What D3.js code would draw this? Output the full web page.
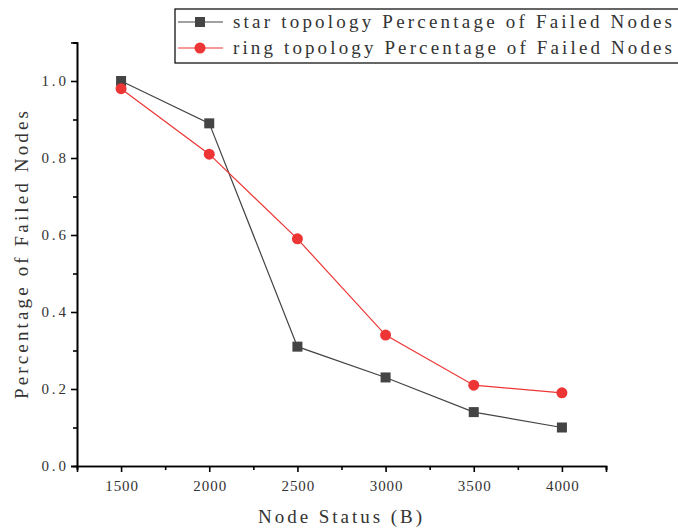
<!DOCTYPE html>
<html><head><meta charset="utf-8">
<script src="https://cdn.jsdelivr.net/npm/d3@7"></script>
<style>body{margin:0;background:#fff}svg{display:block}text{font-family:"Liberation Serif","DejaVu Serif",serif;fill:#333}</style>
</head><body>
<svg id="c" width="678" height="528"></svg>
<script>
const categories = [1500, 2000, 2500, 3000, 3500, 4000];
const starValues = [1.00, 0.89, 0.31, 0.23, 0.14, 0.10];
const ringValues = [0.98, 0.81, 0.59, 0.34, 0.21, 0.19];
const xTicks = [1500, 2000, 2500, 3000, 3500, 4000];
const yTicks = [0.0, 0.2, 0.4, 0.6, 0.8, 1.0];
const seriesNames = ["star topology Percentage of Failed Nodes", "ring topology Percentage of Failed Nodes"];
const xTitle = "Node Status (B)";
const yTitle = "Percentage of Failed Nodes";

const svg = d3.select("#c");
const x = d3.scaleLinear().domain([1250, 4250]).range([77, 606]);
const y = d3.scaleLinear().domain([0, 1.1]).range([466, 42.5]);

const xAxis = d3.axisBottom(x).tickValues(xTicks).tickFormat(d3.format("d")).tickSize(6).tickPadding(8);
const xMinor = d3.axisBottom(x).tickValues(d3.range(1250, 4251, 500)).tickFormat("").tickSize(4);
const yAxis = d3.axisLeft(y).tickValues(yTicks).tickFormat(d3.format(".1f")).tickSize(6).tickPadding(5);
const yMinor = d3.axisLeft(y).tickValues([0.1,0.3,0.5,0.7,0.9,1.1]).tickFormat("").tickSize(4);

function style(g, w){
  g.select(".domain").attr("stroke","#000").attr("stroke-width",1.6);
  g.selectAll(".tick line").attr("stroke","#000").attr("stroke-width",1.6);
  g.selectAll("text").style("font-size","15px").attr("fill","#3a3a3a")
    .attr("textLength", function(){ return this.textContent.length * w; }).attr("lengthAdjust","spacing");
}
svg.append("g").attr("transform","translate(0,466)").call(xMinor).call(style, 8.2);
svg.append("g").attr("transform","translate(0,466)").call(xAxis).call(style, 8.2);
svg.append("g").attr("transform","translate(77,0)").call(yMinor).call(style, 8.2);
svg.append("g").attr("transform","translate(77,0)").call(yAxis).call(style, 8.2);

// titles
svg.append("text").attr("x", 340).attr("y", 523).attr("text-anchor","middle").style("font-size","19px").attr("fill","#3a3a3a")
  .attr("textLength",164).attr("lengthAdjust","spacing").text(xTitle);
svg.append("text").attr("transform","translate(28,255) rotate(-90)").attr("text-anchor","middle").style("font-size","19px").attr("fill","#3a3a3a")
  .attr("textLength",288).attr("lengthAdjust","spacing").text(yTitle);

// series
const starColor = "#444444", ringColor = "#ee3535";
const line = d3.line().x((d,i)=>x(categories[i])).y(d=>y(d));
svg.append("path").datum(starValues).attr("d", line).attr("fill","none").attr("stroke", starColor).attr("stroke-width",1.2);
svg.append("path").datum(ringValues).attr("d", line).attr("fill","none").attr("stroke", ringColor).attr("stroke-width",1.2);
svg.selectAll(".sq").data(starValues).enter().append("rect")
  .attr("x",(d,i)=>x(categories[i])-5).attr("y",d=>y(d)-5).attr("width",10).attr("height",10).attr("fill",starColor);
svg.selectAll(".ci").data(ringValues).enter().append("circle")
  .attr("cx",(d,i)=>x(categories[i])).attr("cy",d=>y(d)).attr("r",5.5).attr("fill",ringColor);

// legend
const lg = svg.append("g");
lg.append("rect").attr("x",175).attr("y",9).attr("width",520).attr("height",54).attr("fill","#fff").attr("stroke","#000").attr("stroke-width",1.2);
const rows = [{name:seriesNames[0], c:starColor, t:"sq", yy:22},{name:seriesNames[1], c:ringColor, t:"ci", yy:48}];
rows.forEach(r=>{
  lg.append("line").attr("x1",178).attr("x2",223).attr("y1",r.yy).attr("y2",r.yy).attr("stroke",r.c).attr("stroke-width",1.2);
  if(r.t==="sq") lg.append("rect").attr("x",195).attr("y",r.yy-5).attr("width",10).attr("height",10).attr("fill",r.c);
  else lg.append("circle").attr("cx",200).attr("cy",r.yy).attr("r",5.5).attr("fill",r.c);
  lg.append("text").attr("x",233).attr("y",r.yy+6).style("font-size","19px").attr("fill","#3a3a3a")
    .attr("textLength",439).attr("lengthAdjust","spacing").text(r.name);
});
</script>
</body></html>
